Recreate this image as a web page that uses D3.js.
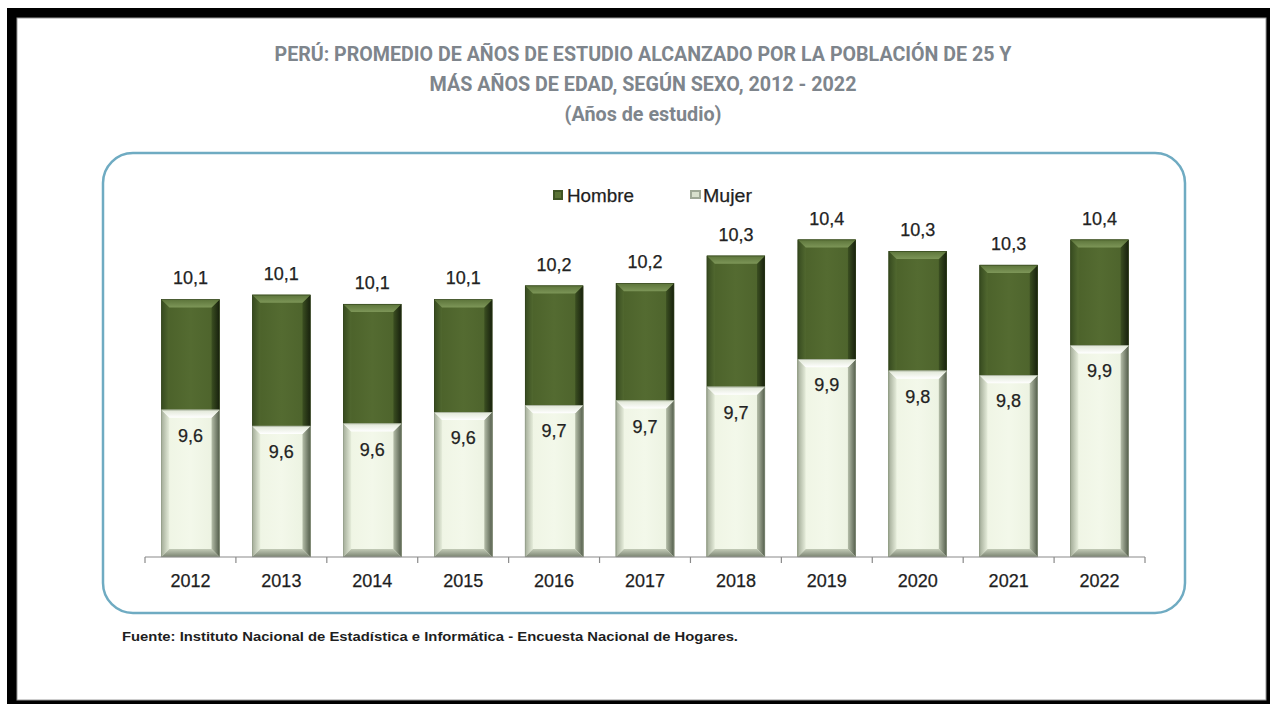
<!DOCTYPE html>
<html>
<head>
<meta charset="utf-8">
<script src="https://cdn.jsdelivr.net/npm/d3@7"></script>
<style>
  html, body { margin: 0; padding: 0; background: #ffffff; }
  svg { display: block; }
</style>
</head>
<body>
<svg id="chart" width="1270" height="704"></svg>
<script>
// ---------- DATA ----------
const years = ["2012","2013","2014","2015","2016","2017","2018","2019","2020","2021","2022"];
const hombre = [10.12, 10.14, 10.10, 10.12, 10.18, 10.19, 10.31, 10.38, 10.33, 10.27, 10.38];
const mujer  = [9.64, 9.57, 9.58, 9.63, 9.66, 9.68, 9.74, 9.86, 9.81, 9.79, 9.92];
const seriesNames = ["Hombre", "Mujer"];
const titleLines = [
  "PERÚ: PROMEDIO DE AÑOS DE ESTUDIO ALCANZADO POR LA POBLACIÓN DE 25 Y",
  "MÁS AÑOS DE EDAD, SEGÚN SEXO, 2012 - 2022",
  "(Años de estudio)"
];
const sourceText = "Fuente: Instituto Nacional de Estadística e Informática - Encuesta Nacional de Hogares.";
const yDomain = [9, 10.6];

// ---------- SETUP ----------
const svg = d3.select("#chart");
const fmt = v => d3.format(".1f")(v).replace(".", ",");

// outer black frame
svg.append("rect").attr("x", 7).attr("y", 8).attr("width", 1270).attr("height", 700).attr("fill", "#000");
svg.append("rect").attr("x", 17).attr("y", 18).attr("width", 1249).attr("height", 682)
  .attr("fill", "#fff").attr("stroke", "#9a9a9a").attr("stroke-width", 1);

// defs / gradients
const defs = svg.append("defs");
function lg(id, dir, stops) {
  const g = defs.append("linearGradient").attr("id", id);
  if (dir === "h") g.attr("x1", 0).attr("y1", 0).attr("x2", 1).attr("y2", 0);
  else g.attr("x1", 0).attr("y1", 0).attr("x2", 0).attr("y2", 1);
  stops.forEach(s => g.append("stop").attr("offset", s[0]).attr("stop-color", s[1]));
}
lg("hBase", "h", [[0, "#4a6029"], [0.5, "#546b31"], [1, "#4c622b"]]);
lg("hTop", "v", [[0, "#5c743a"], [1, "#7d9658"]]);
lg("hLeft", "h", [[0, "#364a1f"], [1, "#51682f"]]);
lg("hRight", "h", [[0, "#3b4f21"], [1, "#17200d"]]);
lg("mBase", "h", [[0, "#eef4e3"], [0.5, "#f3f8ea"], [1, "#eaf1df"]]);
lg("mTop", "v", [[0, "#dfe6d5"], [1, "#ffffff"]]);
lg("mLeft", "h", [[0, "#a3ac98"], [1, "#e6eddb"]]);
lg("mRight", "h", [[0, "#b5bea9"], [1, "#525c4a"]]);
lg("mBottom", "v", [[0, "#c3cbb7"], [1, "#7a8371"]]);

// rounded chart box
svg.append("rect").attr("x", 103).attr("y", 153).attr("width", 1082).attr("height", 460)
  .attr("rx", 30).attr("ry", 30).attr("fill", "none")
  .attr("stroke", "#6fabc2").attr("stroke-width", 2.5);

// title
const titleG = svg.append("g");
const titleY = [61, 91, 121];
const titleW = [737, 427, 157];
titleLines.forEach((t, i) => {
  titleG.append("text")
    .attr("x", 643).attr("y", titleY[i])
    .attr("text-anchor", "middle")
    .attr("font-family", "Roboto, 'Liberation Sans', sans-serif")
    .attr("font-weight", "bold")
    .attr("font-size", 21)
    .attr("fill", "#7e858c")
    .attr("textLength", titleW[i])
    .attr("lengthAdjust", "spacingAndGlyphs")
    .text(t);
});

// ---------- SCALES ----------
const x = d3.scaleBand().domain(years).range([145, 1145]).paddingInner(0.36).paddingOuter(0.18);
const y = d3.scaleLinear().domain(yDomain).range([557, 189]);
const base = y(yDomain[0]);

// ---------- BARS ----------
function bevelBar(g, bx, by, w, h, kind, showBottom) {
  const b = 8;
  const pre = kind === "h" ? "h" : "m";
  g.append("rect").attr("x", bx).attr("y", by).attr("width", w).attr("height", h).attr("fill", `url(#${pre}Base)`);
  g.append("polygon").attr("points", [[bx, by], [bx + b, by + b], [bx + b, by + h - (showBottom ? b : 0)], [bx, by + h]].join(" "))
    .attr("fill", `url(#${pre}Left)`);
  g.append("polygon").attr("points", [[bx + w, by], [bx + w - b, by + b], [bx + w - b, by + h - (showBottom ? b : 0)], [bx + w, by + h]].join(" "))
    .attr("fill", `url(#${pre}Right)`);
  g.append("polygon").attr("points", [[bx, by], [bx + w, by], [bx + w - b, by + b], [bx + b, by + b]].join(" "))
    .attr("fill", `url(#${pre}Top)`);
  if (showBottom) {
    g.append("polygon").attr("points", [[bx, by + h], [bx + w, by + h], [bx + w - b, by + h - b], [bx + b, by + h - b]].join(" "))
      .attr("fill", `url(#${pre}Bottom)`);
  }
  g.append("rect").attr("x", bx + 0.25).attr("y", by + 0.25).attr("width", w - 0.5).attr("height", h - 0.5)
    .attr("fill", "none").attr("stroke", kind === "h" ? "#2f3f1a" : "#8d9783").attr("stroke-width", 0.6);
}

const barsG = svg.append("g");
years.forEach((yr, i) => {
  const bx = x(yr), w = x.bandwidth();
  bevelBar(barsG.append("g"), bx, y(hombre[i]), w, base - y(hombre[i]), "h", false);
  bevelBar(barsG.append("g"), bx, y(mujer[i]), w, base - y(mujer[i]), "m", true);
});

// labels
const labelFont = "'Liberation Sans', Arial, sans-serif";
const labG = svg.append("g").attr("font-family", labelFont).attr("font-size", 18).attr("fill", "#222")
  .attr("text-anchor", "middle").attr("stroke", "#222").attr("stroke-width", 0.25);
years.forEach((yr, i) => {
  const cx = x(yr) + x.bandwidth() / 2;
  labG.append("text").attr("x", cx).attr("y", y(hombre[i]) - 15).text(fmt(hombre[i]));
  labG.append("text").attr("x", cx).attr("y", y(mujer[i]) + 32).text(fmt(mujer[i]));
});

// ---------- AXIS ----------
const axisG = svg.append("g").attr("transform", `translate(0,${base})`);
axisG.call(d3.axisBottom(x).tickSize(0).tickPadding(17))
  .call(g => g.select(".domain").attr("stroke", "#8a8a8a").attr("stroke-width", 1.2).attr("d", `M${x.range()[0]},0H${x.range()[1]}`))
  .call(g => g.selectAll("text").attr("font-family", labelFont).attr("font-size", 18).attr("fill", "#1e1e1e")
    .attr("stroke", "#1e1e1e").attr("stroke-width", 0.25));
const edges = years.map(d => x(d) - x.step() * x.paddingInner() / 2).concat([x.range()[1]]);
axisG.selectAll("line.edge").data(edges).enter().append("line").attr("class", "edge")
  .attr("x1", d => d).attr("x2", d => d).attr("y1", 0).attr("y2", 6)
  .attr("stroke", "#8a8a8a").attr("stroke-width", 1.2);

// ---------- LEGEND ----------
const legG = svg.append("g");
const legX = [553, 690];
const legW = [67, 49];
seriesNames.forEach((n, i) => {
  const sq = legG.append("g");
  if (i === 0) {
    sq.append("rect").attr("x", legX[i]).attr("y", 190).attr("width", 10).attr("height", 10).attr("fill", "#3f5524");
    sq.append("rect").attr("x", legX[i] + 2).attr("y", 192).attr("width", 6).attr("height", 6).attr("fill", "#5a7335");
  } else {
    sq.append("rect").attr("x", legX[i]).attr("y", 190).attr("width", 11).attr("height", 9).attr("fill", "#9ea896");
    sq.append("rect").attr("x", legX[i] + 2).attr("y", 192).attr("width", 7).attr("height", 5).attr("fill", "#d8e0cd");
  }
  legG.append("text").attr("x", legX[i] + (i === 0 ? 14 : 13)).attr("y", 202)
    .attr("font-family", labelFont).attr("font-size", 19).attr("fill", "#1e1e1e")
    .attr("stroke", "#1e1e1e").attr("stroke-width", 0.25)
    .attr("textLength", legW[i]).attr("lengthAdjust", "spacingAndGlyphs")
    .text(n);
});

// ---------- SOURCE ----------
svg.append("text").attr("x", 122).attr("y", 641)
  .attr("font-family", labelFont).attr("font-weight", "bold").attr("font-size", 13).attr("fill", "#1e1e1e")
  .attr("textLength", 616).attr("lengthAdjust", "spacingAndGlyphs")
  .text(sourceText);
</script>
</body>
</html>
